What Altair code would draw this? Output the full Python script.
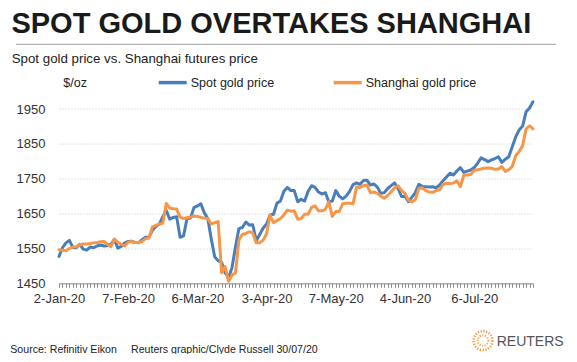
import json
import altair as alt
import pandas as pd

FONT = "Liberation Sans"

# Shanghai trading days, 2 Jan - 29 Jul 2020 (exchange holidays removed)
holidays = ["2020-01-24", "2020-01-27", "2020-01-28", "2020-01-29", "2020-01-30",
            "2020-01-31", "2020-04-06", "2020-05-01", "2020-05-04", "2020-05-05",
            "2020-06-25", "2020-06-26"]
dates = [d for d in pd.bdate_range("2020-01-02", "2020-07-29") if d.strftime("%Y-%m-%d") not in holidays]

spot = [1527, 1552, 1566, 1573, 1553, 1552, 1562, 1548, 1545, 1554,
        1552, 1557, 1560, 1557, 1558, 1562, 1576, 1551, 1556, 1566,
        1570, 1571, 1567, 1566, 1575, 1582, 1583, 1602, 1613, 1620,
        1641, 1659, 1634, 1639, 1641, 1582, 1586, 1636, 1637, 1667,
        1672, 1678, 1652, 1636, 1578, 1526, 1515, 1510, 1480, 1466,
        1495, 1554, 1607, 1610, 1626, 1617, 1618, 1572, 1590, 1608,
        1620, 1646, 1648, 1680, 1686, 1714, 1725, 1716, 1716, 1684,
        1691, 1686, 1714, 1730, 1725, 1712, 1706, 1710, 1683, 1686,
        1716, 1700, 1692, 1700, 1714, 1733, 1738, 1734, 1745, 1746,
        1732, 1735, 1726, 1708, 1710, 1722, 1730, 1738, 1722, 1699,
        1700, 1684, 1697, 1710, 1734, 1728, 1727, 1726, 1727, 1724,
        1732, 1744, 1755, 1766, 1761, 1772, 1782, 1768, 1772, 1775,
        1782, 1795, 1810, 1805, 1799, 1804, 1808, 1813, 1797, 1806,
        1813, 1842, 1870, 1890, 1901, 1942, 1953, 1971]

shanghai = [1546, 1545, 1543, 1550, 1554, 1555, 1560, 1563, 1563, 1564,
            1566, 1567, 1569, 1570, 1562, 1555, 1577, 1568, 1562, 1557,
            1568, 1570, 1567, 1567, 1570, 1578, 1580, 1612, 1616, 1620,
            1622, 1679, 1666, 1664, 1663, 1640, 1636, 1638, 1640, 1643,
            1642, 1639, 1637, 1636, 1620, 1624, 1627, 1480, 1498, 1456,
            1474, 1480, 1574, 1590, 1593, 1598, 1594, 1566, 1566, 1574,
            1592, 1645, 1624, 1630, 1636, 1646, 1660, 1657, 1658, 1634,
            1636, 1648, 1648, 1668, 1672, 1658, 1658, 1662, 1684, 1642,
            1656, 1656, 1678, 1680, 1680, 1678, 1726, 1725, 1730, 1732,
            1710, 1712, 1708, 1700, 1694, 1702, 1712, 1724, 1730, 1716,
            1708, 1688, 1684, 1690, 1722, 1724, 1716, 1712, 1711, 1716,
            1718, 1734, 1737, 1736, 1738, 1744, 1727, 1760, 1761, 1762,
            1774, 1776, 1778, 1780, 1781, 1780, 1777, 1778, 1785, 1771,
            1776, 1785, 1816, 1828, 1845, 1893, 1902, 1893]

series_names = ["Spot gold price", "Shanghai gold price"]
series_colors = ["#4a7ebb", "#f79646"]
y_ticks = [1450, 1550, 1650, 1750, 1850, 1950]

n = len(dates)
df = pd.DataFrame({
    "idx": list(range(n)) * 2,
    "series": [series_names[0]] * n + [series_names[1]] * n,
    "price": spot + shanghai,
})

date_labels = [f"{d.day}-{d.strftime('%b-%y')}" for d in dates]
label_list = [date_labels[i] for i in range(0, n, 20)]
label_expr = "datum.value % 20 == 0 ? " + json.dumps(label_list) + "[datum.value / 20] : ''"

lines = alt.Chart(df).mark_line(strokeWidth=3, strokeJoin="round", strokeCap="round").encode(
    x=alt.X("idx:Q",
            scale=alt.Scale(domain=[0, n - 1], nice=False, zero=False),
            axis=alt.Axis(title=None, values=list(range(n)), labelExpr=label_expr,
                          tickSize=4, tickColor="#8c8c8c", domainColor="#8c8c8c",
                          labelFont=FONT, labelFontSize=13, labelColor="#333333",
                          labelPadding=5, labelOverlap=False, labelFlush=False,
                          labelBound=False, grid=False)),
    y=alt.Y("price:Q",
            scale=alt.Scale(domain=[1450, 2000], nice=False, zero=False),
            axis=alt.Axis(title=None, values=y_ticks, format="d", grid=True,
                          gridColor="#c8c8c8", gridDash=[1, 2], gridWidth=1,
                          ticks=False, tickSize=0, domain=False, labelPadding=14,
                          labelFont=FONT, labelFontSize=13, labelColor="#333333")),
    color=alt.Color("series:N",
                    scale=alt.Scale(domain=series_names, range=series_colors),
                    legend=alt.Legend(title=None, orient="none", legendX=97.7, legendY=-25,
                                      direction="horizontal", symbolType="stroke",
                                      symbolStrokeWidth=3.5, symbolSize=784,
                                      labelFont=FONT, labelFontSize=12.5,
                                      labelColor="#222222", columnPadding=52,
                                      labelOffset=2, padding=0)),
)


def one():
    return alt.Data(values=[{"k": 1}])


def text(t, x, y, size, weight="normal", color="#222222", align="left"):
    return alt.Chart(one()).mark_text(
        text=t, font=FONT, fontSize=size, fontWeight=weight, color=color,
        align=align, baseline="alphabetic"
    ).encode(x=alt.value(x), y=alt.value(y))


title = text("SPOT GOLD OVERTAKES  SHANGHAI", -47.6, -58.4, 29, "bold", "#1a1a1a")
subtitle = text("Spot gold price vs. Shanghai futures price", -47.3, -28.3, 13.3)
unit = text("$/oz", 4.3, -4.3, 12.5)
source = text("Source: Refinitiv Eikon", -48.7, 261.4, 10.6)
credit = text("Reuters graphic/Clyde Russell 30/07/20", 72, 261.4, 10.6)
reuters = text("REUTERS", 437.7, 254.4, 14, "normal", "#555555")

rule = alt.Chart(one()).mark_rule(color="#a0a0a0", strokeWidth=1).encode(
    x=alt.value(-43), x2=alt.value(497), y=alt.value(-47.3))

ring_outer = alt.Chart(one()).mark_point(
    shape="circle", size=361, filled=False, stroke="#f39c4a", strokeWidth=2.5,
    strokeDash=[1.3, 1.5], opacity=1).encode(x=alt.value(424), y=alt.value(249))
ring_inner = alt.Chart(one()).mark_point(
    shape="circle", size=110, filled=False, stroke="#f6a85e", strokeWidth=2,
    strokeDash=[1.2, 1.4], opacity=1).encode(x=alt.value(424), y=alt.value(249))

chart = alt.layer(
    lines, rule, title, subtitle, unit, source, credit, ring_outer, ring_inner, reuters
).properties(
    width=474, height=191.7,
    padding={"left": 51, "top": 83.6, "right": 36, "bottom": 70.7},
    autosize=alt.AutoSizeParams(type="none"),
    background="white",
).configure_view(stroke=None)

chart.save("out.html", embed_options={"renderer": "svg", "actions": False})
